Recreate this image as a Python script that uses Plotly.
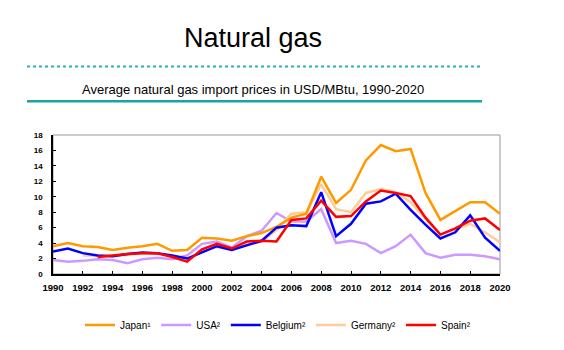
import plotly.graph_objects as go

years = list(range(1990, 2021))

japan = [3.6, 4.0, 3.6, 3.5, 3.1, 3.4, 3.6, 3.9, 3.0, 3.1,
         4.7, 4.6, 4.3, 4.9, 5.3, 6.1, 7.3, 7.8, 12.6, 9.2,
         10.9, 14.7, 16.7, 15.9, 16.2, 10.5, 7.0, 8.1, 9.3, 9.3, 7.8]
usa = [1.8, 1.6, 1.7, 1.9, 1.8, 1.4, 1.9, 2.1, 1.9, 2.4,
       3.9, 4.2, 3.4, 4.9, 5.6, 7.9, 6.8, 6.8, 8.4, 4.0,
       4.3, 3.9, 2.7, 3.6, 5.1, 2.7, 2.1, 2.5, 2.5, 2.3, 1.9]
belgium = [2.9, 3.3, 2.7, 2.4, 2.3, 2.6, 2.8, 2.7, 2.4, 2.0,
           2.8, 3.6, 3.1, 3.7, 4.3, 6.0, 6.3, 6.2, 10.6, 4.9,
           6.5, 9.1, 9.4, 10.4, 8.3, 6.4, 4.6, 5.4, 7.6, 4.7, 3.0]
germany = [None, None, 2.4, 2.4, 2.3, 2.5, 2.7, 2.6, 2.3, 1.9,
           2.9, 3.5, 3.1, 3.8, 4.2, 5.7, 7.8, 8.0, 11.6, 8.4,
           8.0, 10.5, 11.0, 10.6, 9.3, 7.1, 5.1, 5.8, 6.5, 5.4, 4.1]
spain = [None, None, None, 2.2, 2.4, 2.6, 2.7, 2.7, 2.2, 1.6,
         3.2, 3.9, 3.3, 4.2, 4.3, 4.2, 7.0, 7.2, 9.5, 7.4,
         7.5, 9.4, 10.8, 10.5, 10.1, 7.3, 5.1, 5.9, 6.9, 7.2, 5.7]

series = [
    ("Japan¹", japan, "#FF9900"),
    ("USA²", usa, "#CC99FF"),
    ("Belgium²", belgium, "#0000FF"),
    ("Germany²", germany, "#FFCC99"),
    ("Spain²", spain, "#FF0000"),
]
draw_order = [1, 3, 0, 2, 4]

font = "Liberation Sans, Arial, sans-serif"

fig = go.Figure()
for i in draw_order:
    name, vals, col = series[i]
    fig.add_trace(go.Scatter(x=years, y=vals, mode="lines", name=name,
                             line=dict(color=col, width=2.5),
                             legendrank=i + 1, connectgaps=False))

W, H = 564, 350
ml, mr, mt, mb = 53, 64, 135, 75

def px(x):
    return (x - ml) / (W - ml - mr)

def py(y):
    return 1 - (y - mt) / (H - mt - mb)

fig.update_layout(
    width=W, height=H,
    margin=dict(l=ml, r=mr, t=mt, b=mb),
    paper_bgcolor="white", plot_bgcolor="white",
    showlegend=True,
    legend=dict(orientation="h", x=px(80), y=py(325), yanchor="middle",
                xanchor="left", font=dict(family=font, size=10, color="#000"),
                traceorder="normal", itemwidth=30, tracegroupgap=0),
    xaxis=dict(range=[1990, 2020], dtick=2, tick0=1990, showgrid=False,
               zeroline=False, showline=True, linecolor="#000", linewidth=1.5,
               ticks="inside", ticklen=3, tickcolor="#000",
               ticklabelstandoff=4,
               tickfont=dict(family=font, size=9.5, color="#000", weight="bold")),
    yaxis=dict(range=[0, 18], dtick=2, showgrid=False, zeroline=False,
               showline=True, linecolor="#000", linewidth=1.5,
               ticks="inside", ticklen=3, tickcolor="#000",
               ticklabelstandoff=7,
               tickfont=dict(family=font, size=8, color="#000", weight="bold")),
    shapes=[
        dict(type="rect", xref="paper", yref="paper", x0=0, x1=1, y0=0, y1=1,
             line=dict(color="#999999", width=1), layer="below"),
        dict(type="line", xref="paper", yref="paper", x0=px(27), x1=px(480),
             y0=py(66), y1=py(66), line=dict(color="#2AB0AD", width=2, dash="dot")),
        dict(type="line", xref="paper", yref="paper", x0=px(27), x1=px(482),
             y0=py(101), y1=py(101), line=dict(color="#1AA3A0", width=2.5)),
    ],
    annotations=[
        dict(text="Natural gas", xref="paper", yref="paper", x=px(253), y=py(37),
             xanchor="center", yanchor="middle", showarrow=False,
             font=dict(family=font, size=27, color="#000")),
        dict(text="Average natural gas import prices in USD/MBtu, 1990-2020",
             xref="paper", yref="paper", x=px(253), y=py(89),
             xanchor="center", yanchor="middle", showarrow=False,
             font=dict(family=font, size=13, color="#000")),
    ],
)

fig.write_html("out.html")
